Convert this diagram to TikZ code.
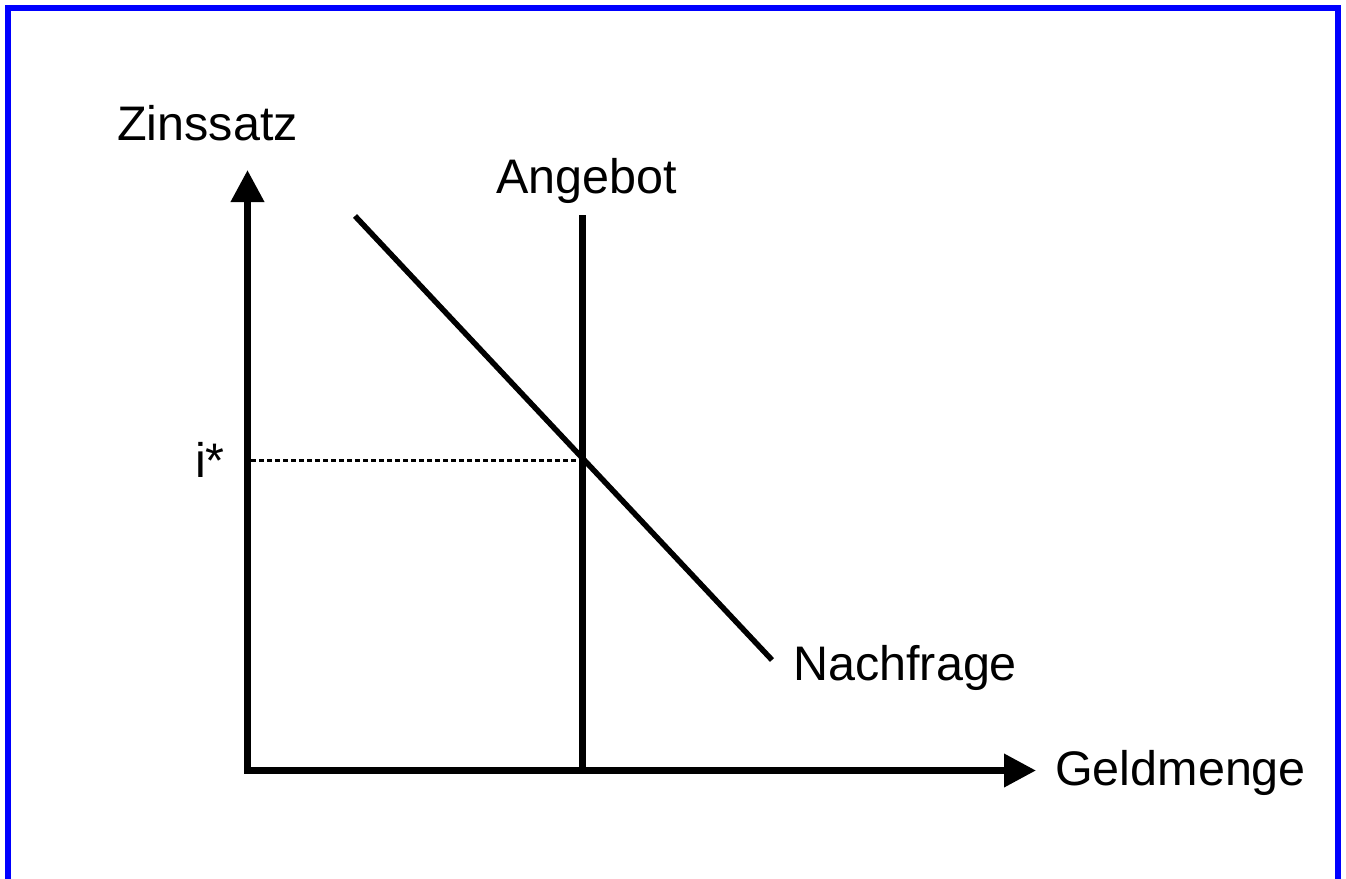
\documentclass[tikz,border=0pt]{standalone}
\usepackage{fontspec}
\setmainfont{Liberation Sans}
\usetikzlibrary{arrows.meta}
\tikzset{
  lbl/.style={inner sep=0pt, anchor=base west, font=\fontsize{48.5}{54}\selectfont},
  axis/.style={line width=7pt, -{Triangle[length=32pt,width=32pt]}},
  curve/.style={line width=5.5pt},
  guide/.style={line width=3.5pt, dash pattern=on 4.5pt off 3.5pt}
}
\begin{document}
\begin{tikzpicture}[x=1pt,y=-1pt]
\useasboundingbox (0,0) rectangle (1346,878);
\draw[blue, line width=6pt] (8,900) -- (8,8) -- (1338,8) -- (1338,900);
\coordinate (O) at (247.5,770.5);
\coordinate (ytip) at (247.5,170);
\coordinate (xtip) at (1036,770.5);
\coordinate (Stop) at (582.5,215);
\coordinate (Sbot) at (582.5,770.5);
\coordinate (Dtop) at (355,216);
\coordinate (Dbot) at (772,660);
\coordinate (Eq) at (582.5,460.5);
\coordinate (Iy) at (251,460.5);
\draw[guide] (Iy) -- (Eq);
\draw[line width=7pt] (Stop) -- (Sbot);
\draw[curve] (Dtop) -- (Dbot);
\draw[axis] ([yshift=3.5pt]O) -- (ytip);
\draw[axis] ([xshift=-3.5pt]O) -- (xtip);
\node[lbl] (zins) at (117,140) {Zinssatz};
\node[lbl] (ang) at (496,193) {Angebot};
\node[lbl] (istar) at (195,477) {i*};
\node[lbl] (nach) at (793,680) {Nachfrage};
\node[lbl] (geld) at (1055,785) {Geldmenge};
\end{tikzpicture}
\end{document}
